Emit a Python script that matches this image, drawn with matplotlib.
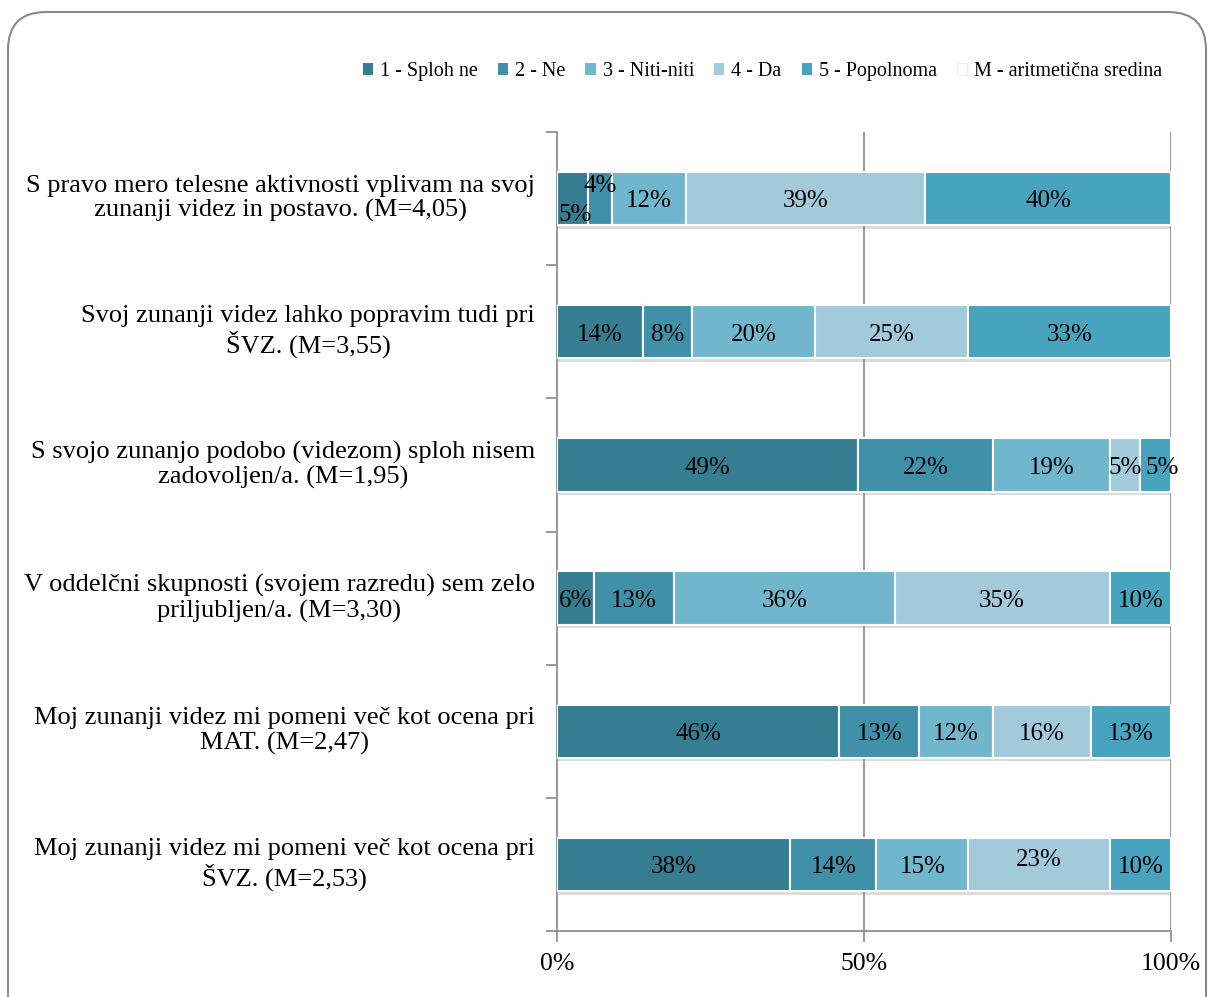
import matplotlib.pyplot as plt
import matplotlib.patheffects as pe
from matplotlib.patches import FancyBboxPatch, Rectangle
import numpy as np

plt.rcParams['font.family'] = ['Liberation Serif', 'DejaVu Serif']

statements = [
    'S pravo mero telesne aktivnosti vplivam na svoj\nzunanji videz in postavo. (M=4,05)',
    'Svoj zunanji videz lahko popravim tudi pri\nŠVZ. (M=3,55)',
    'S svojo zunanjo podobo (videzom) sploh nisem\nzadovoljen/a. (M=1,95)',
    'V oddelčni skupnosti (svojem razredu) sem zelo\npriljubljen/a. (M=3,30)',
    'Moj zunanji videz mi pomeni več kot ocena pri\nMAT. (M=2,47)',
    'Moj zunanji videz mi pomeni več kot ocena pri\nŠVZ. (M=2,53)',
]
answers = ['1 - Sploh ne', '2 - Ne', '3 - Niti-niti', '4 - Da', '5 - Popolnoma']
sploh_ne = [5, 14, 49, 6, 46, 38]
ne = [4, 8, 22, 13, 13, 14]
niti = [12, 20, 19, 36, 12, 15]
da = [39, 25, 5, 35, 16, 23]
popolnoma = [40, 33, 5, 10, 13, 10]
colors = ['#367d91', '#4190a9', '#70b6cc', '#a2cadb', '#47a3be']

# label nudges (points) for the crowded segments
nudge = {(0, 0): (2, -10), (0, 1): (0, 11), (2, 4): (5, 0), (5, 3): (0, 5)}

series = np.array([sploh_ne, ne, niti, da, popolnoma]) / 100.0

fig = plt.figure(figsize=(12.08, 9.97), dpi=100)
ax = fig.add_axes([0.4611, 0.0662, 0.5083, 0.8014])

y = np.arange(len(statements))
left = np.zeros(len(statements))
shadow = [pe.SimplePatchShadow(offset=(1, -2.5), shadow_rgbFace='#888888', alpha=0.3), pe.Normal()]
for k, vals in enumerate(series):
    bars = ax.barh(y, vals, left=left, height=0.4, color=colors[k], edgecolor='white',
                   linewidth=1.5, zorder=3)
    for b in bars:
        b.set_path_effects(shadow)
    for i, v in enumerate(vals):
        dx, dy = nudge.get((i, k), (0, 0))
        ax.annotate('%d%%' % round(v * 100), (left[i] + v / 2, y[i]), xytext=(dx, dy - 2),
                    textcoords='offset points', ha='center', va='center', fontsize=18, zorder=5)
    left += vals

ax.set_xlim(0, 1)
ax.set_ylim(len(statements) - 0.5, -0.5)
ax.set_xticks([0, 0.5, 1])
ax.set_xticklabels(['0%', '50%', '100%'], fontsize=18.5)
ax.set_yticks(np.arange(len(statements) + 1) - 0.5)
ax.set_yticklabels([])
ax.tick_params(axis='y', length=8, color='#888888', width=1.2)
ax.tick_params(axis='x', length=8, color='#888888', width=1.2, pad=8)
for s in ['top', 'right']:
    ax.spines[s].set_visible(False)
for s in ['left', 'bottom']:
    ax.spines[s].set_color('#888888')
    ax.spines[s].set_linewidth(1.2)
for gx in [0.5, 1.0]:
    ax.axvline(gx, color='#888888', lw=1.2, zorder=1)

for i, txt in enumerate(statements):
    ax.text(-0.036, y[i], txt, transform=ax.get_yaxis_transform(), ha='right', va='center',
            multialignment='center', fontsize=19, linespacing=1.15)

handles = [Rectangle((0, 0), 1, 1, facecolor=c, edgecolor='none') for c in colors]
handles.append(Rectangle((0, 0), 1, 1, facecolor='white', edgecolor='#eeeeee'))
labels = answers + ['M - aritmetična sredina']
fig.legend(handles, labels, loc='center right', bbox_to_anchor=(0.977, 0.928), ncol=6,
           frameon=False, fontsize=14.5, handlelength=0.5, handleheight=0.5,
           handletextpad=0.35, columnspacing=1.0)

border = FancyBboxPatch((8, -40), 1198, 1025, boxstyle='round,pad=0,rounding_size=38',
                        transform=None, facecolor='none', edgecolor='#8a8a8a', lw=1.5)
fig.patches.append(border)

fig.savefig('out.png', dpi=100)
